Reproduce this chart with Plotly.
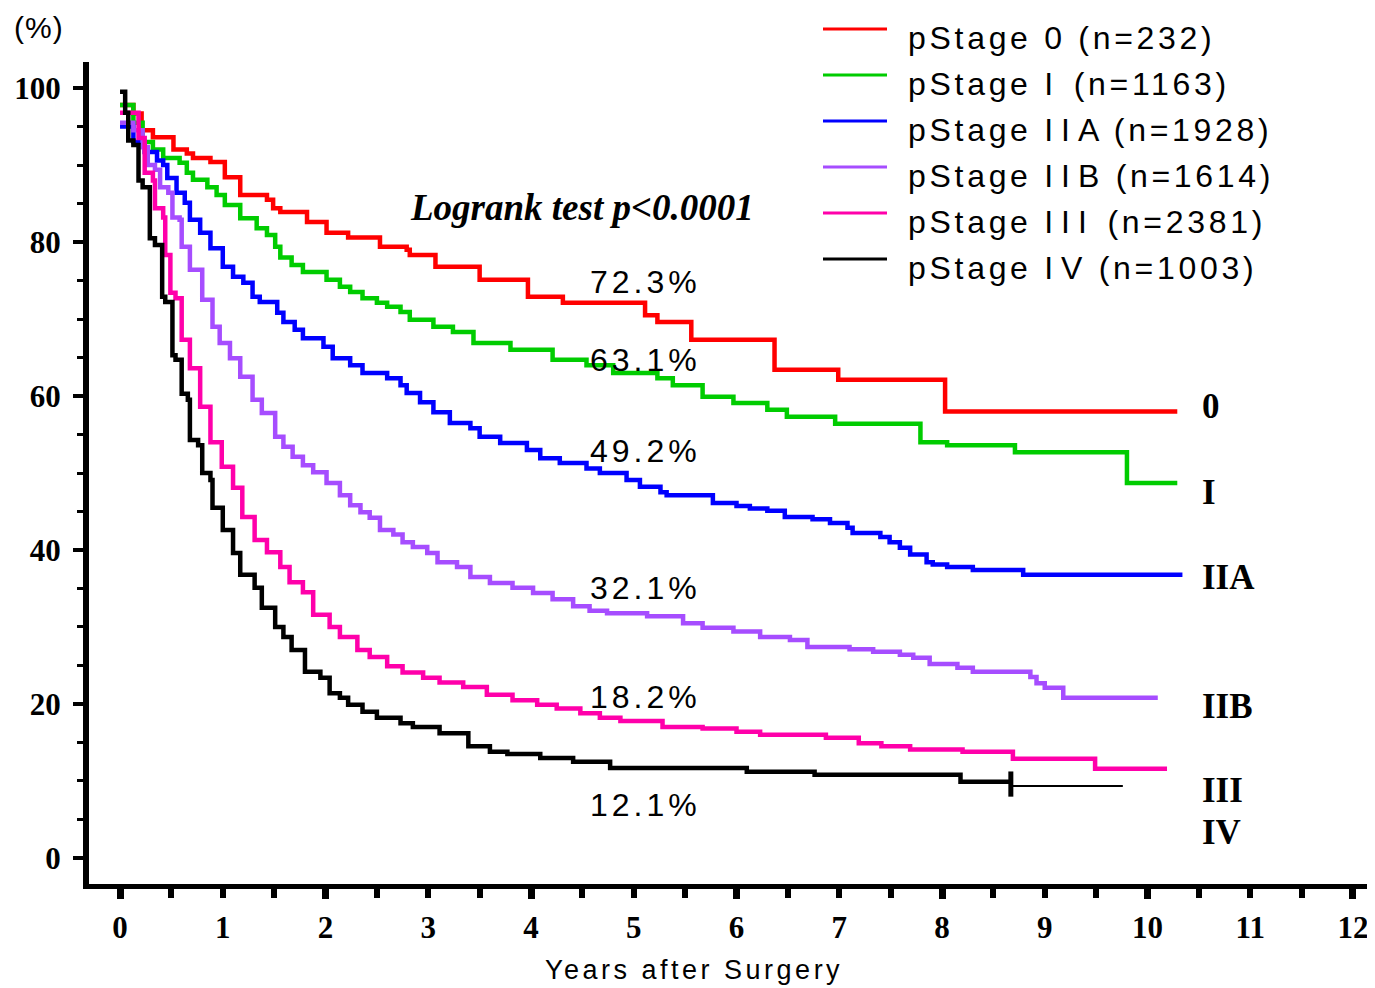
import plotly.graph_objects as go

# Kaplan-Meier steps: years after surgery / survival (%)
t_stage0 = [0, 0.13, 0.21, 0.32, 0.52, 0.65, 0.71, 0.88, 1.02, 1.17, 1.43, 1.49,
            1.56, 1.82, 2.01, 2.22, 2.53, 2.79, 2.82, 3.07, 3.50, 3.97, 4.31,
            5.11, 5.23, 5.56, 6.37, 6.99, 8.03, 10.29]
s_stage0 = [97.8, 96.7, 94.5, 93.6, 92.0, 91.5, 90.9, 90.4, 88.4, 86.1, 85.5, 84.4,
            83.9, 82.6, 81.2, 80.6, 79.4, 79.0, 78.3, 76.8, 75.1, 72.9, 72.1,
            70.5, 69.6, 67.3, 63.4, 62.1, 58.0, 58.0]

t_stage1 = [0, 0.13, 0.22, 0.32, 0.42, 0.58, 0.65, 0.71, 0.85, 0.94, 1.02, 1.17,
            1.33, 1.43, 1.51, 1.56, 1.67, 1.78, 2.01, 2.14, 2.24, 2.36, 2.50,
            2.60, 2.73, 2.82, 3.05, 3.24, 3.44, 3.80, 4.21, 4.54, 4.80, 5.23,
            5.38, 5.67, 5.97, 6.30, 6.49, 6.96, 7.79, 8.05, 8.71, 9.80, 10.29]
s_stage1 = [97.8, 95.5, 93.0, 92.0, 90.9, 90.3, 89.0, 88.1, 87.1, 86.1, 84.8, 83.1,
            81.8, 80.9, 79.4, 78.0, 77.0, 76.1, 75.1, 74.2, 73.5, 72.7, 72.1,
            71.6, 70.9, 69.9, 69.0, 68.3, 66.9, 66.0, 64.7, 64.0, 63.0, 62.3,
            61.4, 59.9, 59.1, 58.2, 57.3, 56.4, 54.0, 53.6, 52.7, 48.7, 48.7]

t_stage2a = [0, 0.13, 0.24, 0.36, 0.42, 0.46, 0.55, 0.63, 0.68, 0.78, 0.88, 1.00,
             1.10, 1.20, 1.29, 1.36, 1.53, 1.59, 1.70, 1.78, 1.98, 2.07, 2.24,
             2.36, 2.60, 2.73, 2.79, 2.92, 3.05, 3.21, 3.41, 3.50, 3.70, 3.96,
             4.09, 4.28, 4.54, 4.67, 4.93, 5.06, 5.26, 5.32, 5.77, 6.00, 6.13,
             6.30, 6.47, 6.74, 6.91, 7.08, 7.13, 7.40, 7.49, 7.59, 7.69, 7.85,
             7.91, 8.05, 8.30, 8.79, 10.34]
s_stage2a = [95.0, 93.0, 91.7, 90.6, 90.0, 88.3, 86.4, 85.1, 82.9, 81.2, 79.2, 76.8,
             75.5, 74.7, 72.9, 72.2, 70.8, 69.6, 68.6, 67.5, 66.4, 64.9, 64.0,
             63.0, 62.3, 61.4, 60.4, 59.2, 57.9, 56.5, 55.8, 54.7, 53.9, 53.0,
             51.9, 51.3, 50.6, 50.0, 49.1, 48.2, 47.5, 47.1, 46.1, 45.7, 45.4,
             45.1, 44.3, 44.0, 43.5, 42.9, 42.2, 41.7, 41.0, 40.3, 39.4, 38.4,
             38.1, 37.8, 37.4, 36.8, 36.8]

t_stage2b = [0, 0.13, 0.22, 0.27, 0.34, 0.39, 0.47, 0.51, 0.58, 0.60, 0.68, 0.80,
             0.90, 0.97, 1.07, 1.17, 1.29, 1.38, 1.51, 1.59, 1.68, 1.78, 1.88,
             2.01, 2.14, 2.24, 2.34, 2.43, 2.53, 2.66, 2.75, 2.85, 2.99, 3.09,
             3.28, 3.41, 3.60, 3.82, 4.02, 4.21, 4.41, 4.57, 4.74, 5.13, 5.48,
             5.67, 5.97, 6.23, 6.52, 6.69, 7.10, 7.33, 7.59, 7.72, 7.88, 8.15,
             8.30, 8.86, 8.92, 9.00, 9.18, 10.10]
s_stage2b = [95.5, 94.5, 92.3, 90.0, 89.4, 87.1, 86.4, 83.2, 82.9, 79.4, 76.4, 72.5,
             69.0, 66.9, 64.9, 62.5, 59.5, 57.8, 54.7, 53.4, 52.1, 51.0, 50.1,
             48.7, 47.1, 45.8, 44.9, 44.2, 42.6, 42.0, 41.0, 40.4, 39.6, 38.4,
             37.8, 36.5, 35.7, 35.1, 34.4, 33.6, 32.7, 32.1, 31.8, 31.4, 30.5,
             29.9, 29.4, 28.7, 28.3, 27.4, 27.1, 26.8, 26.4, 26.0, 25.2, 24.7,
             24.2, 23.5, 22.7, 22.1, 20.8, 20.8]

t_stage3 = [0, 0.18, 0.24, 0.32, 0.34, 0.42, 0.44, 0.49, 0.54, 0.60, 0.68, 0.78,
            0.88, 0.99, 1.10, 1.19, 1.31, 1.43, 1.56, 1.65, 1.78, 1.88, 2.04,
            2.14, 2.31, 2.43, 2.60, 2.75, 2.95, 3.11, 3.34, 3.57, 3.82, 4.06,
            4.25, 4.48, 4.67, 4.87, 5.28, 5.67, 6.00, 6.23, 6.87, 7.19, 7.41,
            7.69, 8.20, 8.69, 9.49, 10.19]
s_stage3 = [96.8, 93.5, 89.0, 88.0, 84.4, 83.2, 78.3, 73.4, 72.7, 67.3, 63.6, 58.6,
            54.0, 50.8, 48.1, 44.3, 41.3, 39.7, 37.8, 35.8, 34.5, 31.6, 30.0,
            28.7, 27.0, 26.1, 24.9, 24.1, 23.4, 22.8, 22.2, 21.2, 20.5, 19.9,
            19.4, 18.8, 18.2, 17.8, 17.0, 16.8, 16.4, 16.0, 15.6, 14.9, 14.5,
            14.1, 13.8, 12.9, 11.6, 11.6]

t_stage4 = [0, 0.05, 0.08, 0.13, 0.18, 0.22, 0.29, 0.34, 0.41, 0.44, 0.51, 0.54,
            0.60, 0.66, 0.68, 0.76, 0.80, 0.88, 0.90, 1.00, 1.10, 1.17, 1.31,
            1.38, 1.51, 1.59, 1.67, 1.80, 1.95, 2.04, 2.14, 2.22, 2.36, 2.50,
            2.73, 2.85, 3.11, 3.39, 3.60, 3.77, 4.09, 4.41, 4.77, 6.10, 6.76,
            8.18, 8.67]
s_stage4 = [99.5, 96.8, 93.2, 92.6, 88.0, 87.1, 80.5, 79.6, 72.9, 72.2, 65.3, 64.7,
            60.3, 59.5, 54.3, 53.6, 50.0, 49.1, 45.5, 42.6, 39.6, 36.8, 35.1,
            32.5, 30.0, 28.7, 27.0, 24.2, 23.4, 21.4, 20.8, 19.9, 19.0, 18.2,
            17.5, 17.0, 16.2, 14.5, 13.8, 13.5, 13.0, 12.5, 11.7, 11.2, 10.8,
            9.9, 9.9]
# thin tail of pStage IV after the last censoring mark
t_stage4_tail = [8.67, 9.76]
s_stage4_tail = [9.35, 9.35]

stage_names = ["pStage 0 (n=232)", "pStage I (n=1163)", "pStage IIA (n=1928)",
               "pStage IIB (n=1614)", "pStage III (n=2381)", "pStage IV (n=1003)"]
rate_5y = ["72.3%", "63.1%", "49.2%", "32.1%", "18.2%", "12.1%"]
end_labels = ["0", "I", "IIA", "IIB", "III", "IV"]
x_ticks = list(range(0, 13))
y_ticks = [0, 20, 40, 60, 80, 100]

SANS = "Liberation Sans, Arial, sans-serif"
SERIF = "Liberation Serif, Times New Roman, serif"
colors = ["#FF0000", "#00CC00", "#0000FF", "#A64DFF", "#FF00AA", "#000000"]

# plot area in page pixels (the page body adds an 8px offset)
PL, PR, PT, PB = 89, 1372, 62, 884
PW, PH = PR - PL, PB - PT


def px(xp):
    return (xp - PL) / PW


def py(yp):
    return (PB - yp) / PH


def spaced(text, sp):
    return f'<span style="letter-spacing:{sp}px">{text}</span>'


def legend_text(text, sp=3.7, sp_i=8):
    # roman numerals sit wider apart in the original legend
    out, run, run_i = [], "", None
    for ch in text:
        is_i = ch == "I"
        if run and is_i != run_i:
            out.append(spaced(run, sp_i if run_i else sp))
            run = ""
        run += ch
        run_i = is_i
    out.append(spaced(run, sp_i if run_i else sp))
    return "".join(out)


curves = [(t_stage0, s_stage0), (t_stage1, s_stage1), (t_stage2a, s_stage2a),
          (t_stage2b, s_stage2b), (t_stage3, s_stage3), (t_stage4, s_stage4)]

fig = go.Figure()
for (t, s), name, col in zip(curves, stage_names, colors):
    fig.add_trace(go.Scatter(x=t, y=s, name=name, mode="lines",
                             line=dict(color=col, width=4.5, shape="hv"),
                             showlegend=False))
fig.add_trace(go.Scatter(x=t_stage4_tail, y=s_stage4_tail, mode="lines",
                         line=dict(color="black", width=1.8),
                         showlegend=False))
# censoring tick drawn on the overlay axis so that axis gets rendered
fig.add_trace(go.Scatter(x=[t_stage4_tail[0]], y=[9.6], mode="markers",
                         xaxis="x2",
                         marker=dict(symbol="line-ns", size=18,
                                     line=dict(color="black", width=5)),
                         showlegend=False))

X_RANGE = [-0.302, 12.185]
fig.update_layout(
    width=1367, height=980,
    margin=dict(l=PL - 8, r=1367 - (PR - 8), t=PT - 8, b=980 - (PB - 8)),
    plot_bgcolor="white", paper_bgcolor="white",
    xaxis=dict(range=X_RANGE, tickvals=x_ticks, ticks="outside", ticklen=9,
               tickwidth=6, tickcolor="black", showline=True, linewidth=5,
               linecolor="black", showgrid=False, zeroline=False,
               ticklabelstandoff=3,
               tickfont=dict(family=SERIF, size=31, color="black",
                             weight="bold"),
               minor=dict(dtick=0.5, tick0=0, ticks="outside", ticklen=9,
                          tickwidth=6, tickcolor="black", showgrid=False)),
    xaxis2=dict(range=X_RANGE, overlaying="x", anchor="y", side="bottom",
                tickvals=x_ticks[::2], ticks="outside", ticklen=14,
                tickwidth=7, tickcolor="black", showticklabels=False,
                showline=False, showgrid=False, zeroline=False),
    yaxis=dict(range=[-3.38, 103.38], tickvals=y_ticks, ticks="outside",
               ticklen=10, tickwidth=4, tickcolor="black", showline=True,
               linewidth=6, linecolor="black", showgrid=False, zeroline=False,
               ticklabelstandoff=6,
               tickfont=dict(family=SERIF, size=31, color="black",
                             weight="bold"),
               minor=dict(dtick=5, tick0=0, ticks="outside", ticklen=6,
                          tickwidth=3, tickcolor="black", showgrid=False)),
)

annotations = []
# 5-year survival rates
rate_y = [74.8, 64.7, 52.9, 35.0, 20.9, 6.9]
for txt, yv in zip(rate_5y, rate_y):
    annotations.append(dict(x=4.55, y=yv, xref="x", yref="y", text=spaced(txt, 4),
                            showarrow=False, xanchor="left", yanchor="middle",
                            font=dict(family=SANS, size=32, color="black")))
# stage labels at the right end of the curves
end_y = [58.6, 47.5, 36.4, 19.7, 8.7, 3.25]
for txt, yv in zip(end_labels, end_y):
    annotations.append(dict(x=10.51, y=yv, xref="x", yref="y", text=f"<b>{txt}</b>",
                            showarrow=False, xanchor="left", yanchor="middle",
                            font=dict(family=SERIF, size=35, color="black")))
annotations.append(dict(x=2.80, y=84.5, xref="x", yref="y",
                        text="<b><i>Logrank test p&lt;0.0001</i></b>",
                        showarrow=False, xanchor="left", yanchor="middle",
                        font=dict(family=SERIF, size=37, color="black")))
annotations.append(dict(x=px(12), y=py(27), xref="paper", yref="paper",
                        text=spaced("(%)", 1), showarrow=False, xanchor="left",
                        yanchor="middle",
                        font=dict(family=SANS, size=30, color="black")))
annotations.append(dict(x=px(543), y=py(970), xref="paper", yref="paper",
                        text=spaced("Years after Surgery", 3.5), showarrow=False,
                        xanchor="left", yanchor="middle",
                        font=dict(family=SANS, size=27, color="black")))

# legend block, top right
shapes = []
for i, (name, col) in enumerate(zip(stage_names, colors)):
    shapes.append(dict(type="line", xref="paper", yref="paper",
                       x0=px(823), x1=px(887), y0=py(29 + 46 * i),
                       y1=py(29 + 46 * i), line=dict(color=col, width=3)))
    annotations.append(dict(x=px(906), y=py(38 + 46 * i), xref="paper",
                            yref="paper", text=legend_text(name),
                            showarrow=False, xanchor="left", yanchor="middle",
                            font=dict(family=SANS, size=32, color="black")))

fig.update_layout(annotations=annotations, shapes=shapes)
fig.write_html("out.html")
